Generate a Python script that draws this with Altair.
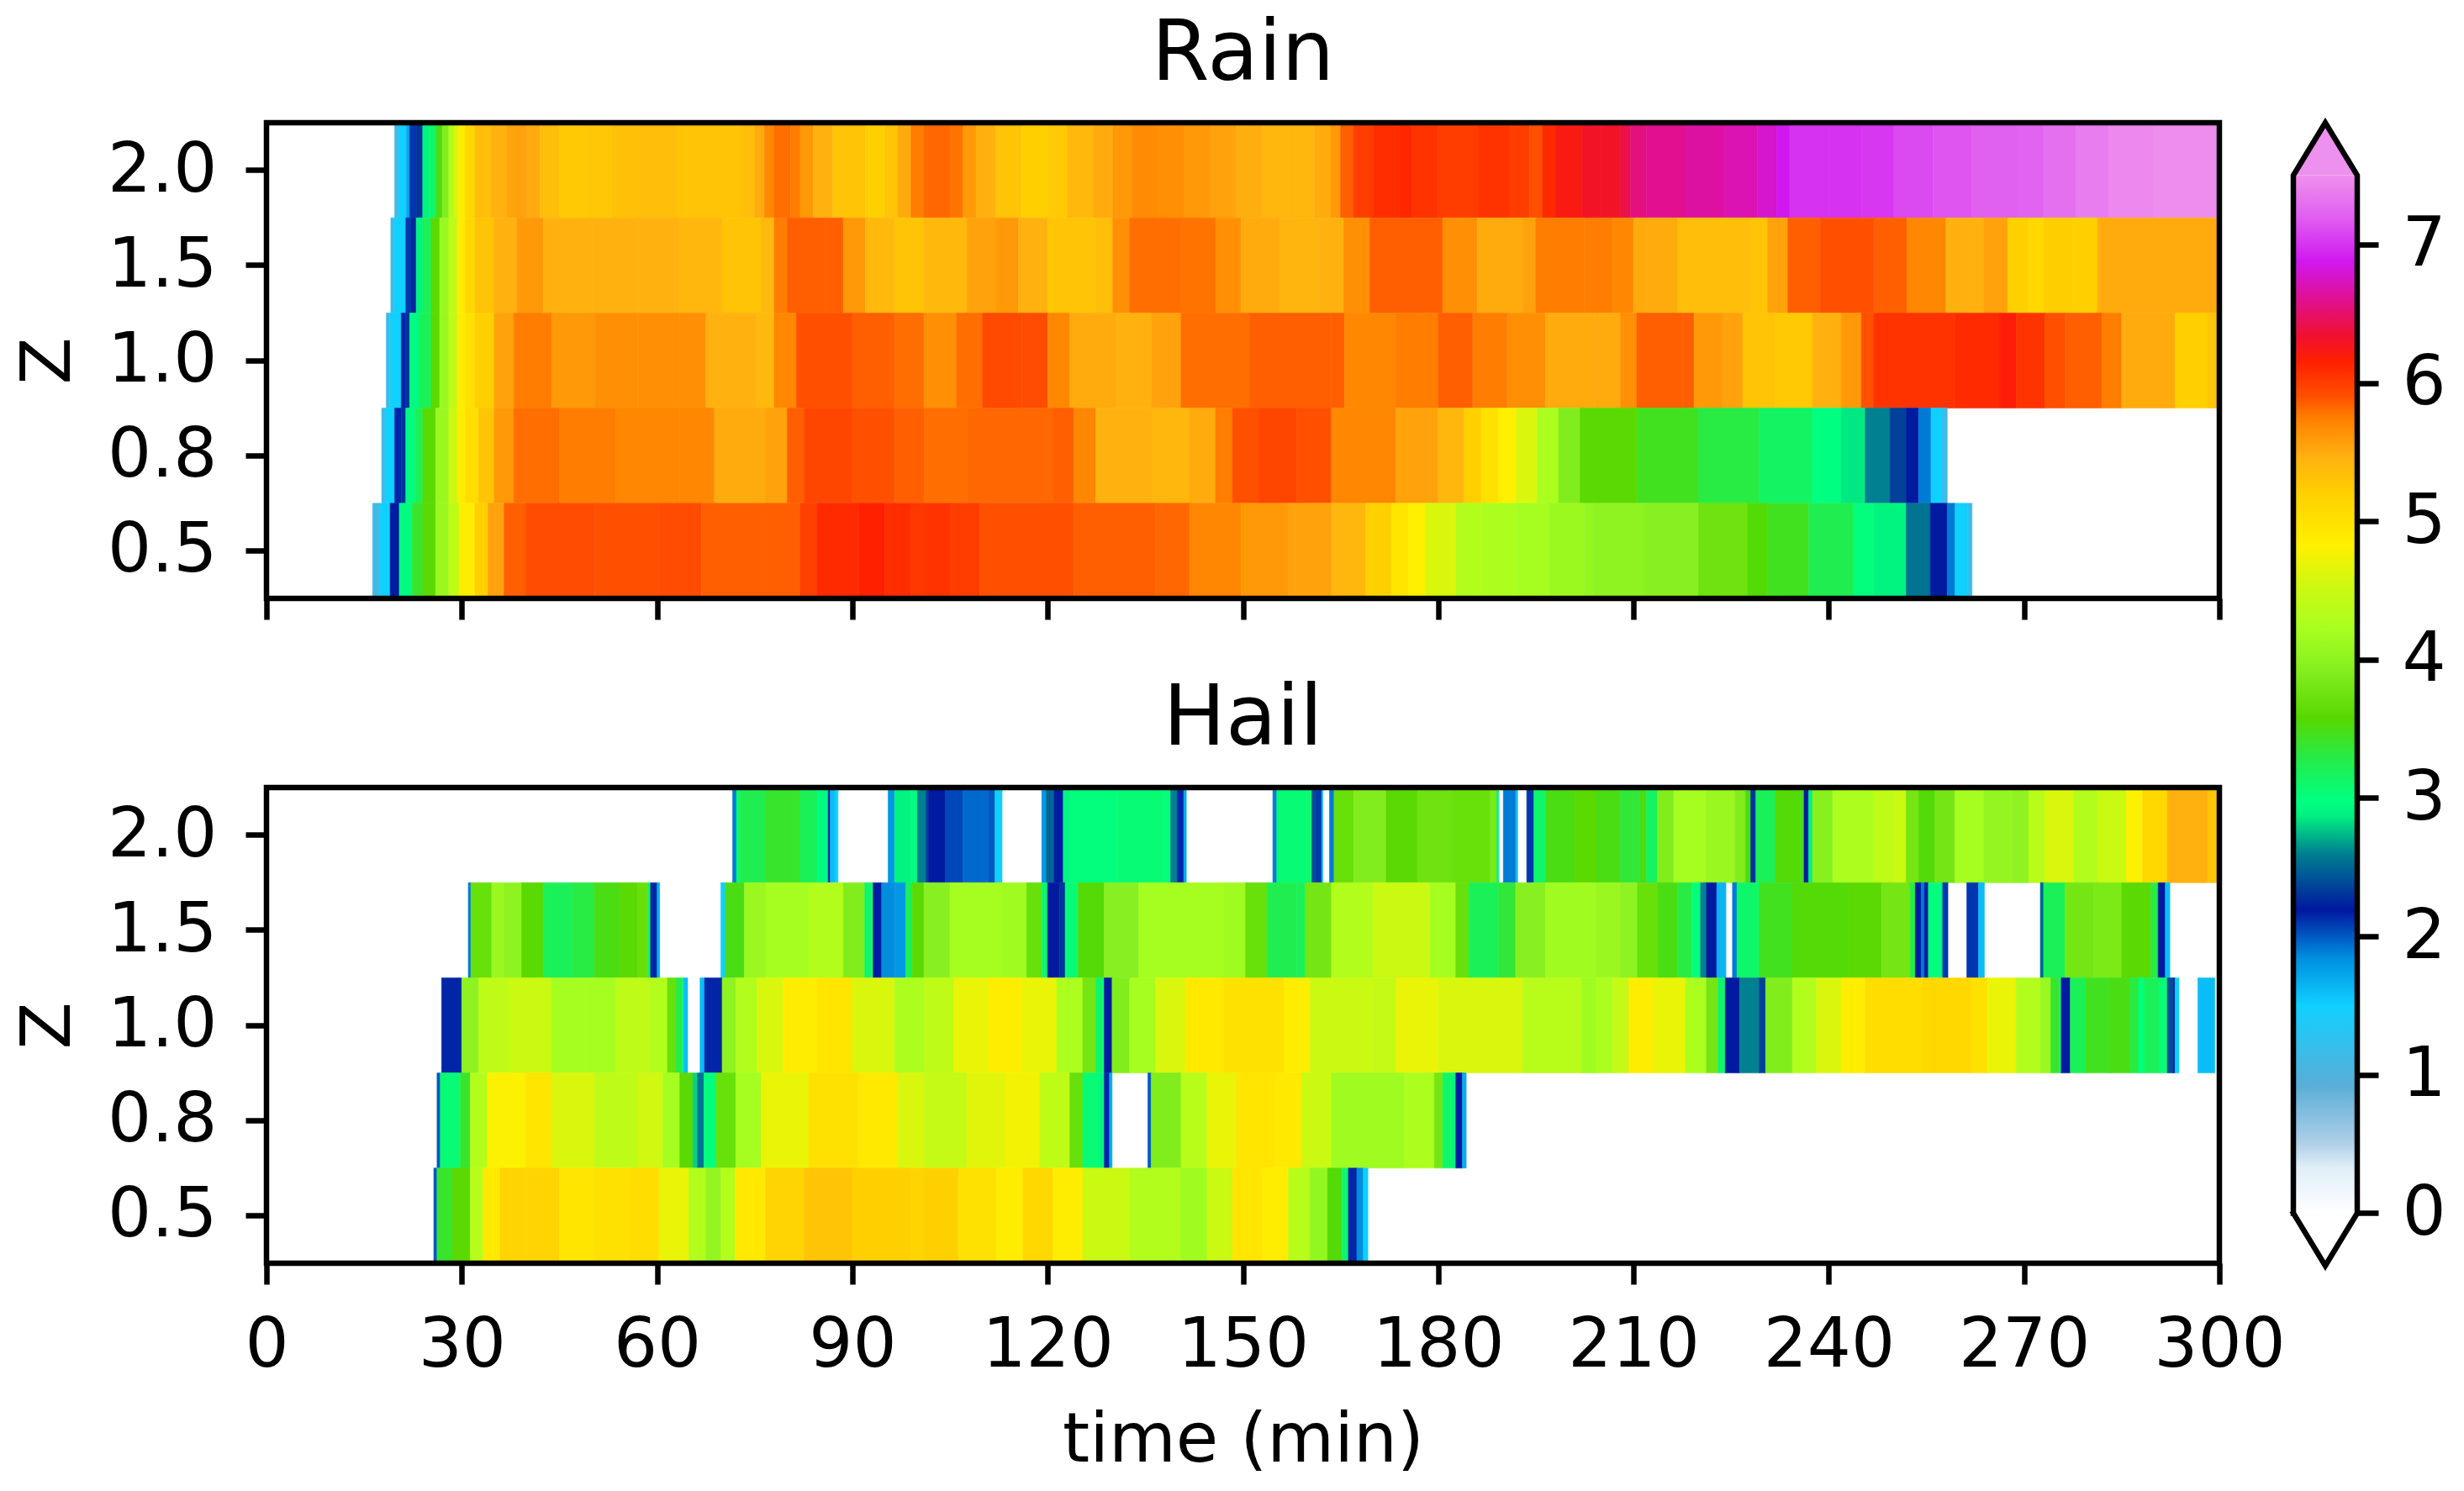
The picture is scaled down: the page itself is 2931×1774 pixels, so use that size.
import altair as alt
import pandas as pd

FONT = "DejaVu Sans"
Z_LABELS = ["2.0", "1.5", "1.0", "0.8", "0.5"]
X_TICKS = list(range(0, 301, 30))
CB_TICKS = list(range(0, 8))

CMAP_DOMAIN = [0, 0.33, 0.5, 0.92, 1.5, 1.84, 2.19, 2.6, 2.87, 2.98, 3.25, 3.58, 3.95, 4.22, 4.55, 4.82, 5.2, 5.47, 5.74, 5.9, 6.15, 6.34, 6.6, 6.88, 7.2, 7.5]
CMAP_COLORS = ["#ffffff", "#e0eef8", "#b0d0e8", "#5aaed8", "#10d0ff", "#0090e0", "#0018a0", "#008090", "#00f080", "#00ff80", "#20ee50", "#58d800", "#88f020", "#a8ff20", "#d0f810", "#fff000", "#ffd000", "#ffb010", "#ff8000", "#ff5000", "#ff2000", "#f01030", "#e01090", "#d018f0", "#e060f0", "#ee90ee"]

# Each row: T holds times, V the value from T[i] to T[i+1]; None means nothing drawn.
R20_T = [19.7,20.3,21.5,22,23,24,25,26,27,28,28.8,29.5,30.5,32,34.5,37,40,42,45,49,53,57,63,70,73,75,76.5,78,80.5,82,84,87,92,95,97,99,101,105,107,109,112,116,120,123,127,130,133,137,141,145,149,153,157,161,163.5,165,167,170,174,176,180,186,191,194,196,198,202,205,208,209.5,212,218,224,229,232,234,240,245,250,256,262,269,273,278,283,290,300]
R20_V = [1.1,1.5,1.7,2.1,2.3,2.9,3.1,3.5,3.9,4.3,4.6,4.85,5.1,5.35,5.45,5.55,5.5,5.35,5.25,5.28,5.33,5.35,5.3,5.3,5.35,5.5,5.7,5.8,5.75,5.6,5.45,5.3,5.2,5.3,5.5,5.75,5.82,5.78,5.6,5.45,5.3,5.2,5.25,5.4,5.5,5.6,5.68,5.65,5.6,5.55,5.48,5.42,5.42,5.5,5.6,5.85,6.0,6.08,6.12,6.05,6.0,6.05,6.0,5.9,6.1,6.22,6.3,6.3,6.4,6.55,6.6,6.65,6.7,6.78,6.88,7.0,7.0,7.02,7.1,7.15,7.2,7.22,7.3,7.38,7.45,7.48,None]

R15_T = [19.1,19.6,21.4,22.2,23,24,25.3,26.6,28,29.3,30.5,32,35,38.5,42.5,50,57,63.5,70,76,78,80,86,88.6,92,96.5,101,107.6,112,115.5,120,127.4,130,132.6,140.5,145.8,149.7,155.7,161.6,165.5,169.5,176.8,180.7,186,193,195,202.4,206.8,210,216.8,228,230.6,233.7,238.7,247,252,258,263.8,267.5,270.7,273,277.6,281.3,300]
R15_V = [1.1,1.5,2.1,2.25,2.9,3.2,3.6,4.1,4.4,4.85,5.1,5.3,5.45,5.6,5.45,5.45,5.45,5.42,5.3,5.4,5.75,5.85,5.85,5.6,5.4,5.3,5.4,5.55,5.6,5.45,5.3,5.35,5.65,5.8,5.78,5.65,5.5,5.43,5.45,5.65,5.85,5.85,5.65,5.5,5.55,5.75,5.75,5.7,5.5,5.35,5.3,5.55,5.85,5.9,5.85,5.7,5.45,5.55,5.2,5.1,5.22,5.2,5.5,None]

R10_T = [18.4,18.9,20.7,21.4,22,23.5,25.3,26.6,28,29.3,30.5,32,35,38,43.8,50.4,57,63.5,67.5,75.4,78,81.4,90,96.5,101,106,110,116,120,123.4,130.6,136,140.5,151,163.6,165.6,173.5,180,185.3,190.6,196.5,204,208,210.5,217.5,219.3,223.7,226.8,231.9,237.5,241.9,245,246.9,259.4,266.3,268.8,273.2,276.3,282,285,293.2,298.2,299.5,300]
R10_V = [1.1,1.5,2.15,2.3,2.95,3.2,3.6,4.1,4.4,4.85,5.0,5.2,5.55,5.75,5.6,5.65,5.65,5.65,5.45,5.4,5.7,5.9,5.85,5.8,5.65,5.8,5.93,5.92,5.7,5.5,5.45,5.55,5.8,5.85,5.85,5.7,5.75,5.85,5.75,5.65,5.5,5.5,5.65,5.85,5.85,5.6,5.55,5.3,5.25,5.45,5.6,5.9,6.05,6.1,6.18,6.05,5.9,5.85,5.75,5.5,5.2,5.3,5.45,None]

R08_T = [17.7,18.2,19.7,20.7,21.4,22.8,24,26,28,29.3,30.5,32.6,35,38,45,53.7,63.5,68.8,76.7,80,82.6,90,96.5,101,107.6,120.8,124,127.4,136,141.8,145.8,148.4,152.4,158.3,163.6,173.5,180,184,186.6,189.3,192,195.2,198.5,201.8,204,210.6,220,229.3,237.5,241.9,245.6,249.4,251.9,253.8,255.7,257.5,258.2]
R08_V = [1.1,1.5,2.15,2.3,2.95,3.2,3.6,4.1,4.5,4.85,5.05,5.3,5.6,5.8,5.75,5.7,5.7,5.5,5.55,5.85,5.95,5.9,5.85,5.8,5.82,5.85,5.7,5.45,5.42,5.5,5.75,5.9,5.95,5.9,5.7,5.55,5.42,5.2,5.0,4.82,4.6,4.25,3.9,3.6,3.6,3.45,3.3,3.15,2.98,2.85,2.6,2.35,2.2,1.9,1.5,1.1,None]

R05_T = [16.3,17.4,19,20.4,22.4,24,26,28,29.6,32,34,36.5,39.8,50.4,60.3,66.8,76.7,82,84.6,91,95,99,101,105,109.6,124,136.6,141.8,149.7,157,163.6,168.9,172.8,175.4,178,182.7,187,192,197,202.4,204,211.8,220,227.5,230.6,236.9,243.8,246.9,251.9,255.6,258.2,259.4,261.3,262]
R05_V = [1.1,1.5,2.2,2.95,3.4,3.6,4.1,4.4,4.85,5.2,5.55,5.85,5.92,5.9,5.92,5.85,5.85,5.98,6.1,6.15,6.08,6.03,6.05,6.0,5.9,5.85,5.82,5.7,5.6,5.55,5.42,5.2,4.95,4.82,4.6,4.3,4.25,4.2,4.12,4.05,4.0,3.95,3.75,3.55,3.45,3.25,3.0,2.9,2.55,2.2,1.9,1.5,1.2,None]

H20_T = [71.6,72.2,72.8,76.7,82,84.6,86.3,86.6,87.4,87.8,95.5,96.5,99,100,101.3,101.7,104.3,107,110.9,111.9,113,119.1,119.8,121,122.4,123.4,130.6,137.9,138.9,139.9,140.9,141.3,154.6,155.2,160.3,160.6,161.3,162.1,162.3,163.3,164,167,172,176.8,182,188,189,189.3,190,191.9,192.2,193.6,194.7,196.5,201,204.3,208,211,212,213.7,216.2,221.2,225.6,227.2,228,228.8,231.8,235.6,236.2,236.9,237.5,240.6,246.9,250,251.9,253.8,256.3,259.4,263.8,268.2,270.7,273.2,277.6,281.3,285.7,288.2,292,298.2,300]
H20_V = [1.9,3.1,3.25,3.4,3.2,2.95,2.2,1.6,1.5,None,1.8,2.9,2.95,2.6,2.35,2.2,2.05,1.95,2.0,1.5,None,1.8,2.5,2.2,2.9,3.0,3.05,3.0,2.6,2.15,1.7,None,1.9,3.05,3.1,2.4,2.1,1.6,None,1.9,3.7,3.9,3.6,3.75,3.7,3.85,2.9,None,1.9,1.6,None,2.1,3.1,3.5,3.6,3.5,3.35,3.5,3.15,3.9,4.2,4.1,3.9,3.5,2.3,3.2,3.55,3.5,2.2,2.9,3.95,4.25,4.4,4.5,3.8,3.55,3.8,4.2,4.05,4.0,4.35,4.6,4.3,4.5,4.8,5.1,5.45,5.3,None]

H15_T = [31,31.4,34.6,36.5,39.2,42.5,47,50.4,54.3,57,58.6,59,60,60.4,69.8,70.5,73.4,76.7,83.3,88.6,91.9,93.2,94.5,96.5,97.5,98.2,99.2,101,105,112.9,116.8,119.1,120,121.8,122.7,124.7,128.7,134,147,150.4,153.7,158.3,159.6,163.6,170,178.7,182.7,184.7,189.3,191.9,196.5,204.3,208,210.6,213.7,216.8,219,220.3,221.2,222.8,224.2,225.2,225.9,229.3,234.4,243,248.1,252.5,253.3,254.2,254.7,255.3,257.2,257.5,258.3,261.2,263,263.9,272.5,273,276.3,280.7,285,289.5,290.6,291.7,292.4]
H15_V = [1.9,3.7,4.1,4.0,3.6,3.2,3.3,3.5,3.6,3.7,3.1,2.15,1.7,None,1.5,3.5,4.1,4.2,4.3,3.9,3.1,2.2,1.85,1.8,1.8,3.2,3.6,3.95,4.2,4.15,3.7,3.1,2.2,2.3,3.05,3.55,3.95,4.2,4.15,3.7,3.25,3.2,3.8,4.3,4.5,4.2,3.7,3.2,3.35,3.95,4.15,4.1,4.0,3.7,3.5,3.3,3.0,2.6,2.2,1.65,None,1.9,3.1,3.45,3.55,3.6,3.8,3.3,2.2,1.9,2.2,3.0,2.9,2.1,None,2.1,1.6,None,2.5,3.2,3.8,3.85,3.6,3.3,2.2,1.6,None]

H10_T = [26.9,30,32.6,37.2,43.8,49,53.7,59,61.6,62.9,63.9,64.1,64.7,66.6,67.3,70,72.1,75.4,79.4,84.6,90,96.5,101,105.6,110.9,116,121.4,125.4,127.4,128.7,129.9,132.6,136.6,141.2,147,156.3,160.3,170.2,173.5,180,193,202,204.3,206.8,209.3,213,218,221.2,223,224.1,226.3,229.3,230.3,234.4,238.1,241.9,245.6,254.4,261.9,264.4,268.8,272.5,274.1,275.4,275.7,277.1,279.4,283.2,286.3,287.6,288.5,290.7,292,292.9,293.2,293.8,296.7,299.3]
H10_V = [2.15,4.0,4.4,4.5,4.2,4.2,4.4,4.3,3.7,3.3,2.95,1.6,None,1.6,2.15,4.0,4.3,4.6,4.85,4.95,4.6,4.25,4.4,4.7,4.85,4.7,4.25,3.8,3.1,2.2,3.9,4.2,4.6,4.9,5.0,4.85,4.5,4.45,4.7,4.6,4.35,4.15,4.25,4.45,4.85,4.7,4.25,3.8,3.1,2.2,2.6,2.35,3.9,4.3,4.6,4.85,5.05,5.1,5.0,4.7,4.3,4.1,3.4,3.0,2.2,3.2,3.45,3.5,3.3,3.0,3.2,3.05,2.4,2.15,1.5,None,1.6,None]

H08_T = [26.2,26.7,29.8,31.3,33.9,39.8,43.8,50.4,57,60.9,63.5,65.5,66.2,67.2,69.1,72.1,76,83.3,91,97,101,107.6,113.5,118.8,123.4,125.4,128,128.7,129.5,129.9,135.4,135.9,140.5,144.5,149,155,159,163.6,174.8,179.4,180.7,182.2,182.7,183.7,184.3]
H08_V = [2.0,3.05,3.4,4.3,4.8,4.95,4.6,4.4,4.55,4.2,3.6,2.8,2.55,3.0,3.7,4.2,4.7,5.0,4.9,4.6,4.45,4.65,4.75,4.4,3.7,3.05,2.9,2.15,1.7,None,2.0,3.9,4.35,4.7,4.95,4.9,4.5,4.15,4.25,3.8,3.1,2.9,2.2,1.7,None]

H05_T = [25.7,26.2,28.6,31.3,33.3,35.9,39.8,45,50.4,55.7,60.3,64.9,67.5,69.8,72,76.7,82.6,90,99,101,106.3,112.2,116.2,120.8,125.4,132.6,140.5,144.5,148.4,153,157,160.3,163,165.2,166.2,167.5,168.5,169.2]
H05_V = [2.0,3.4,3.6,4.35,4.9,5.15,5.15,4.95,5.0,5.05,4.7,4.3,4.05,4.3,4.9,5.15,5.3,5.2,5.15,5.2,5.0,4.85,5.1,4.85,4.5,4.3,4.15,4.5,4.95,4.85,4.35,4.05,3.55,3.1,2.15,1.85,1.5,None]

RAIN = {"2.0": (R20_T, R20_V), "1.5": (R15_T, R15_V), "1.0": (R10_T, R10_V), "0.8": (R08_T, R08_V), "0.5": (R05_T, R05_V)}
HAIL = {"2.0": (H20_T, H20_V), "1.5": (H15_T, H15_V), "1.0": (H10_T, H10_V), "0.8": (H08_T, H08_V), "0.5": (H05_T, H05_V)}

PANEL_W = 2323
PANEL_H = 566
CB_W = 76
TIP_UP = 7.88
TIP_DOWN = -0.38
CB_H = 1360
SPINE = 6.5
TICK = 25
LABEL = 82

color_scale = alt.Scale(domain=CMAP_DOMAIN, range=CMAP_COLORS, interpolate="rgb", clamp=True)


def table(rows):
    out = []
    for z, (ts, vs) in rows.items():
        for i, v in enumerate(vs):
            if v is not None:
                out.append({"z": z, "t0": ts[i], "t1": ts[i + 1], "v": v})
    return pd.DataFrame(out)


def panel(rows, title, show_x):
    x_axis = alt.Axis(
        values=X_TICKS, labels=show_x, title="time (min)" if show_x else None, grid=False, domain=False,
        tickColor="black", tickWidth=SPINE, tickSize=TICK, labelFont=FONT, labelFontSize=LABEL, labelColor="black",
        labelPadding=32, labelFlush=False, labelOverlap=False, titleFont=FONT, titleFontSize=LABEL, titleFontWeight="normal",
        titleColor="black", titlePadding=32,
    )
    y_axis = alt.Axis(
        title="Z", grid=False, domain=False, tickColor="black", tickWidth=SPINE, tickSize=TICK, labelFont=FONT,
        labelFontSize=LABEL, labelColor="black", labelPadding=34, titleFont=FONT, titleFontSize=LABEL,
        titleFontWeight="normal", titleColor="black", titlePadding=28, labelAngle=0,
    )
    cells = alt.Chart(table(rows)).mark_rect(strokeWidth=0.6).encode(
        x=alt.X("t0:Q", scale=alt.Scale(domain=[0, 300], nice=False, zero=False), axis=x_axis),
        x2="t1:Q",
        y=alt.Y("z:O", sort=Z_LABELS, scale=alt.Scale(domain=Z_LABELS, paddingInner=0, paddingOuter=0), axis=y_axis),
        color=alt.Color("v:Q", scale=color_scale, legend=None),
        stroke=alt.Stroke("v:Q", scale=color_scale, legend=None),
    )
    frame = alt.Chart(table(rows).head(1)).mark_rect(filled=False, stroke="black", strokeWidth=SPINE).encode(
        x=alt.value(0), x2=alt.value(PANEL_W), y=alt.value(0), y2=alt.value(PANEL_H),
    )
    return alt.layer(cells, frame).properties(
        width=PANEL_W, height=PANEL_H,
        title=alt.TitleParams(title, font=FONT, fontSize=99, fontWeight="normal", color="black", anchor="middle", offset=27),
    )


# colour bar
cb_x = alt.Scale(domain=[0, 1], nice=False, zero=False)
cb_y = alt.Scale(domain=[TIP_DOWN, TIP_UP], nice=False, zero=False)
cb_axis = alt.Axis(
    values=CB_TICKS, orient="right", title=None, grid=False, domain=False, tickColor="black", tickWidth=SPINE,
    tickSize=TICK, labelFont=FONT, labelFontSize=LABEL, labelColor="black", labelPadding=28, labelAngle=0,
)

stops = [alt.GradientStop(offset=d / 7.5, color=c) for d, c in zip(CMAP_DOMAIN, CMAP_COLORS)]
cb_fill = alt.Chart(pd.DataFrame({"a": [0], "b": [1], "lo": [0.0], "hi": [7.5]})).mark_rect(
    color=alt.LinearGradient(gradient="linear", stops=stops, x1=0, x2=0, y1=1, y2=0)
).encode(
    x=alt.X("a:Q", scale=cb_x, axis=None), x2="b:Q",
    y=alt.Y("lo:Q", scale=cb_y, axis=cb_axis), y2="hi:Q",
)
cb_tip = alt.Chart(pd.DataFrame({"x": [0, 0.5, 1], "lo": [7.5, 7.5, 7.5], "hi": [7.5, TIP_UP, 7.5]})).mark_area(
    color=CMAP_COLORS[-1]
).encode(x=alt.X("x:Q", scale=cb_x, axis=None), y=alt.Y("lo:Q", scale=cb_y, axis=cb_axis), y2="hi:Q")
OUT_X = [0, 0.5, 1, 1, 0.5, 0, 0]
OUT_Y = [0, TIP_DOWN, 0, 7.5, TIP_UP, 7.5, 0]
cb_line = alt.Chart(pd.DataFrame({"x": OUT_X, "y": OUT_Y, "i": list(range(7))})).mark_line(
    color="black", strokeWidth=SPINE, strokeJoin="miter", strokeCap="square"
).encode(x=alt.X("x:Q", scale=cb_x, axis=None), y=alt.Y("y:Q", scale=cb_y, axis=cb_axis), order="i:Q")
colorbar = alt.layer(cb_fill, cb_tip, cb_line).properties(width=CB_W, height=CB_H)

left = alt.vconcat(panel(RAIN, "Rain", False), panel(HAIL, "Hail", True), spacing=65)
chart = alt.hconcat(left, colorbar, spacing=-4).properties(
    padding={"left": 8, "top": 7, "right": 0, "bottom": 24}, background="white"
).configure_view(stroke=None)

chart.save("out.html", embed_options={"renderer": "svg", "actions": False})
